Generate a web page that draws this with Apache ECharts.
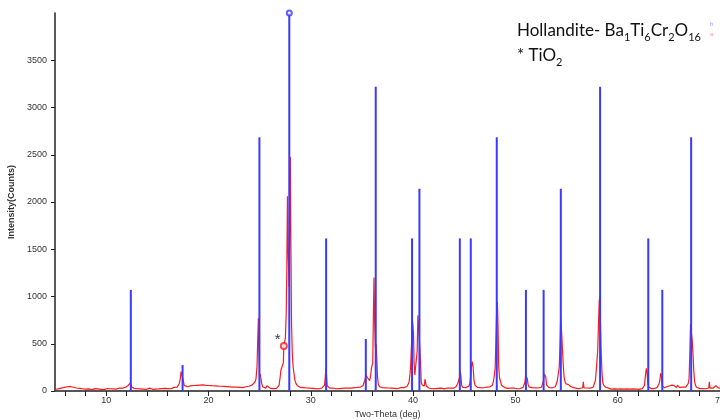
<!DOCTYPE html>
<html>
<head>
<meta charset="utf-8">
<script src="https://cdn.jsdelivr.net/npm/echarts@6/dist/echarts.min.js"></script>
<style>
html, body { margin: 0; padding: 0; background: #fff; }
#xrdChart { width: 720px; height: 420px; }
</style>
</head>
<body>
<div id="xrdChart"></div>
<script>
// tick / label positions
var xTickValues = [6, 8, 10, 12, 14, 16, 18, 20, 22, 24, 26, 28, 30, 32, 34, 36, 38, 40, 42, 44, 46, 48, 50, 52, 54, 56, 58, 60, 62, 64, 66, 68, 70];
var xLabelValues = [10, 20, 30, 40, 50, 60, 70];
var yLabelValues = [0, 500, 1000, 1500, 2000, 2500, 3000, 3500];

// reference pattern (blue sticks)
var refTheta = [12.41, 17.47, 24.98, 27.90, 31.50, 35.38, 36.35, 39.90, 40.62, 44.57, 45.64, 48.18, 51.03, 52.76, 54.44, 58.28, 62.99, 64.36, 67.18];
var refCounts = [1070, 275, 2685, 4000, 1615, 550, 3220, 1615, 2140, 1615, 1615, 2685, 1070, 1070, 2140, 3220, 1615, 1070, 2685];

// measured pattern (red curve), [2theta, counts]
var measured = [
  [5.0,20],[5.15,28],[5.3,22],[5.45,35],[5.6,30],[5.75,42],[5.9,38],[6.05,30],[6.2,45],[6.35,40],[6.5,48],[6.65,35],[6.8,40],[6.95,28],
  [7.1,32],[7.25,22],[7.4,28],[7.55,18],[7.7,24],[7.85,15],[8.0,20],[8.15,14],[8.3,22],[8.45,18],[8.6,12],[8.75,20],[8.9,25],[9.05,16],
  [9.2,22],[9.35,28],[9.5,18],[9.65,24],[9.8,14],[9.95,20],[10.1,26],[10.25,18],[10.4,24],[10.55,30],[10.7,22],[10.85,28],[11.0,20],
  [11.15,26],[11.3,32],[11.45,24],[11.6,30],[11.75,36],[11.9,40],[12.05,48],[12.15,58],[12.25,70],[12.35,82],[12.42,65],[12.5,42],
  [12.6,35],[12.75,28],[12.9,32],[13.05,24],[13.2,30],[13.35,22],[13.5,28],[13.65,20],[13.8,26],[13.95,18],[14.1,24],[14.25,30],
  [14.4,22],[14.55,18],[14.7,25],[14.85,20],[15.0,28],[15.15,22],[15.3,30],[15.45,25],[15.6,20],[15.75,28],[15.9,35],[16.05,26],
  [16.2,30],[16.35,24],[16.5,32],[16.65,38],[16.8,30],[16.95,42],[17.05,55],[17.15,80],[17.25,130],[17.32,205],[17.4,210],[17.47,190],
  [17.55,110],[17.62,60],[17.7,48],[17.8,52],[17.95,45],[18.1,58],[18.25,55],[18.4,62],[18.55,58],[18.7,65],[18.85,60],[19.0,55],
  [19.15,62],[19.3,58],[19.45,64],[19.6,56],[19.75,60],[19.9,54],[20.05,58],[20.2,52],[20.35,56],[20.5,50],[20.65,55],[20.8,48],
  [20.95,52],[21.1,46],[21.25,50],[21.4,44],[21.55,48],[21.7,42],[21.85,46],[22.0,40],[22.15,44],[22.3,38],[22.45,42],[22.6,36],
  [22.75,40],[22.9,35],[23.05,38],[23.2,42],[23.35,36],[23.5,40],[23.65,45],[23.8,42],[23.95,50],[24.1,55],[24.25,62],[24.4,75],
  [24.55,95],[24.65,130],[24.75,270],[24.82,560],[24.88,770],[24.94,420],[25.0,150],[25.06,180],[25.12,140],[25.2,80],[25.3,45],
  [25.45,35],[25.6,30],[25.72,55],[25.8,60],[25.9,35],[26.05,28],[26.2,32],[26.35,25],[26.5,30],[26.65,28],[26.8,35],[26.9,60],
  [27.0,140],[27.08,220],[27.18,200],[27.25,230],[27.32,300],[27.37,475],[27.44,480],[27.52,560],[27.6,820],[27.66,1300],[27.72,2060],
  [27.8,1400],[27.88,1100],[27.94,1800],[28.0,2480],[28.06,1500],[28.12,700],[28.2,380],[28.28,255],[28.36,180],[28.45,115],[28.55,80],
  [28.7,55],[28.85,45],[29.0,38],[29.15,32],[29.3,36],[29.45,28],[29.6,32],[29.75,25],[29.9,30],[30.05,24],[30.2,28],[30.35,22],
  [30.5,26],[30.65,30],[30.8,24],[30.95,28],[31.1,32],[31.25,40],[31.35,63],[31.42,150],[31.48,240],[31.54,160],[31.6,55],[31.7,38],
  [31.85,30],[32.0,26],[32.15,32],[32.3,28],[32.45,24],[32.6,30],[32.75,26],[32.9,32],[33.05,28],[33.2,24],[33.35,30],[33.5,26],
  [33.65,32],[33.8,36],[33.95,30],[34.1,40],[34.25,35],[34.4,44],[34.55,38],[34.7,46],[34.85,42],[35.0,48],[35.1,55],[35.2,75],
  [35.3,120],[35.38,170],[35.46,165],[35.55,140],[35.65,120],[35.75,110],[35.85,160],[35.93,240],[36.0,250],[36.06,300],[36.12,800],
  [36.18,1200],[36.25,700],[36.32,460],[36.4,495],[36.46,480],[36.52,160],[36.6,70],[36.72,45],[36.85,40],[37.0,35],[37.15,30],
  [37.3,34],[37.45,28],[37.6,32],[37.75,26],[37.9,30],[38.05,34],[38.2,28],[38.35,32],[38.5,26],[38.65,30],[38.8,35],[38.95,30],
  [39.1,36],[39.25,40],[39.4,48],[39.5,60],[39.6,90],[39.7,180],[39.77,285],[39.85,500],[39.92,760],[39.98,700],[40.04,610],[40.1,300],
  [40.17,170],[40.25,170],[40.33,190],[40.4,420],[40.47,800],[40.54,790],[40.6,575],[40.66,560],[40.73,300],[40.8,90],[40.9,60],
  [41.0,45],[41.1,55],[41.16,125],[41.24,125],[41.3,50],[41.4,38],[41.55,32],[41.7,28],[41.85,24],[42.0,30],[42.15,26],[42.3,22],
  [42.45,28],[42.6,24],[42.75,30],[42.9,26],[43.05,22],[43.2,28],[43.35,32],[43.5,26],[43.65,30],[43.8,36],[43.95,30],[44.1,38],
  [44.2,45],[44.3,60],[44.4,90],[44.47,116],[44.55,150],[44.62,204],[44.68,150],[44.75,60],[44.85,38],[45.0,32],[45.15,36],[45.3,40],
  [45.45,50],[45.55,80],[45.65,180],[45.72,275],[45.8,310],[45.88,240],[45.95,116],[46.05,60],[46.15,45],[46.3,38],[46.45,42],
  [46.6,35],[46.75,40],[46.9,34],[47.05,38],[47.2,42],[47.35,36],[47.5,44],[47.65,50],[47.75,62],[47.85,100],[47.95,170],[48.03,257],
  [48.1,550],[48.17,860],[48.24,944],[48.3,700],[48.37,257],[48.45,140],[48.55,98],[48.65,60],[48.8,42],[48.95,36],[49.1,32],
  [49.25,28],[49.4,34],[49.55,30],[49.7,26],[49.85,32],[50.0,28],[50.15,24],[50.3,30],[50.45,26],[50.6,32],[50.75,38],[50.85,50],
  [50.93,90],[51.0,159],[51.08,140],[51.16,134],[51.24,70],[51.35,40],[51.5,32],[51.65,36],[51.8,30],[51.95,34],[52.1,28],[52.25,32],
  [52.4,36],[52.55,40],[52.65,55],[52.75,110],[52.82,180],[52.9,180],[52.97,150],[53.05,63],[53.15,42],[53.3,36],[53.45,40],[53.6,34],
  [53.75,38],[53.9,45],[54.0,55],[54.08,100],[54.15,150],[54.22,200],[54.29,257],[54.36,500],[54.42,768],[54.48,700],[54.55,557],
  [54.62,400],[54.69,257],[54.76,150],[54.85,98],[54.95,75],[55.05,63],[55.15,70],[55.26,63],[55.4,48],[55.55,42],[55.7,36],[55.85,32],
  [56.0,28],[56.15,32],[56.3,26],[56.45,30],[56.58,34],[56.64,98],[56.7,34],[56.85,28],[57.0,32],[57.15,26],[57.3,30],[57.45,34],
  [57.6,40],[57.72,55],[57.82,110],[57.9,215],[57.98,215],[58.05,433],[58.12,700],[58.2,960],[58.26,995],[58.32,700],[58.38,433],
  [58.46,200],[58.54,90],[58.62,63],[58.72,48],[58.82,40],[58.95,36],[59.1,30],[59.25,24],[59.4,20],[59.55,18],[59.7,22],[59.85,16],
  [60.0,20],[60.15,18],[60.3,22],[60.45,16],[60.6,20],[60.75,18],[60.9,22],[61.05,16],[61.2,20],[61.35,18],[61.5,22],[61.65,16],
  [61.8,20],[61.95,24],[62.1,18],[62.25,22],[62.4,26],[62.52,35],[62.62,60],[62.7,150],[62.8,240],[62.87,200],[62.94,90],[63.02,45],
  [63.12,30],[63.25,26],[63.4,30],[63.55,26],[63.7,32],[63.85,36],[63.95,50],[64.05,80],[64.12,116],[64.2,187],[64.28,160],[64.36,53],
  [64.45,40],[64.6,34],[64.75,42],[64.9,50],[65.0,38],[65.1,55],[65.2,40],[65.3,62],[65.4,42],[65.5,58],[65.6,40],[65.75,36],
  [65.85,60],[65.95,45],[66.05,38],[66.2,30],[66.35,42],[66.5,35],[66.65,40],[66.8,50],[66.9,80],[66.98,137],[67.05,400],[67.12,708],
  [67.2,698],[67.28,540],[67.36,400],[67.44,204],[67.52,100],[67.6,63],[67.7,40],[67.85,34],[68.0,28],[68.15,32],[68.3,26],[68.45,30],
  [68.6,24],[68.75,28],[68.9,32],[68.96,98],[69.02,30],[69.15,26],[69.3,30],[69.45,34],[69.6,55],[69.7,40],[69.85,32],[70.0,30]
];

// open-circle markers
var tio2Mark = [[27.37, 475]];
var topMark = [[27.90, 4000]];

var xrdChart = echarts.init(document.getElementById('xrdChart'));

var refData = refTheta.map(function (t, i) { return [t, refCounts[i]]; });

var labelFont = { fontFamily: 'Liberation Sans', fontSize: 9, color: '#333' };

var option = {
    backgroundColor: '#fff',
    animation: false,
    grid: {
        left: 55,
        right: 0,
        top: 13,
        bottom: 29,
        containLabel: false,
        outerBoundsMode: 'none'
    },
    xAxis: [{
        type: 'value',
        min: 5,
        max: 70,
        name: 'Two-Theta (deg)',
        nameLocation: 'middle',
        nameGap: 17,
        nameTextStyle: { fontFamily: 'Liberation Sans', fontSize: 9, color: '#333' },
        axisLine: { show: true, onZero: false, lineStyle: { color: '#222', width: 1.5 } },
        axisTick: { show: true, length: 5, lineStyle: { color: '#222', width: 1 }, customValues: xTickValues },
        axisLabel: Object.assign({ margin: 5, customValues: xLabelValues }, labelFont),
        splitLine: { show: false }
    }, {
        // top frame line
        type: 'value',
        position: 'top',
        min: 5,
        max: 70,
        axisLine: { show: true, lineStyle: { color: '#555', width: 1.5 } },
        axisTick: { show: false },
        axisLabel: { show: false },
        splitLine: { show: false }
    }],
    yAxis: {
        type: 'value',
        min: 0,
        max: 4000,
        name: 'Intensity(Counts)',
        nameLocation: 'middle',
        nameGap: 35,
        nameTextStyle: { fontFamily: 'Liberation Sans', fontSize: 9, fontWeight: 'bold', color: '#333' },
        axisLine: { show: true, lineStyle: { color: '#222', width: 1.5 } },
        axisTick: { show: true, length: 4, lineStyle: { color: '#222', width: 1 }, customValues: yLabelValues },
        axisLabel: Object.assign({
            margin: 8,
            customValues: yLabelValues,
            formatter: function (v) { return String(v); }
        }, labelFont),
        splitLine: { show: false }
    },
    series: [
        {
            name: 'measured',
            type: 'line',
            data: measured,
            symbol: 'none',
            sampling: 'none',
            lineStyle: { color: '#ff1a1a', width: 1.2 },
            z: 2
        },
        {
            name: 'TiO2',
            type: 'scatter',
            data: tio2Mark,
            symbol: 'emptyCircle',
            symbolSize: 6,
            itemStyle: { color: '#ff1a1a', borderWidth: 1 },
            label: {
                show: true,
                formatter: '*',
                position: [-5, -10],
                fontFamily: 'Liberation Sans',
                fontSize: 15,
                color: '#000'
            },
            z: 3
        },
        {
            name: 'hollandite',
            type: 'bar',
            data: refData,
            barWidth: 2,
            itemStyle: { color: '#3a3aff' },
            z: 4
        },
        {
            name: 'top',
            type: 'scatter',
            data: topMark,
            symbol: 'emptyCircle',
            symbolSize: 5,
            itemStyle: { color: '#3a3aff', borderWidth: 1 },
            z: 5
        }
    ],
    graphic: [
        {
            type: 'text',
            left: 517,
            top: 22,
            style: {
                text: '{n|Hollandite- Ba}{s|1}{n|Ti}{s|6}{n|Cr}{s|2}{n|O}{s|16}',
                rich: {
                    n: { fontFamily: 'Lato', fontSize: 17, fill: '#111', lineHeight: 20, verticalAlign: 'bottom' },
                    s: { fontFamily: 'Lato', fontSize: 11, fill: '#111', lineHeight: 14, verticalAlign: 'bottom', padding: [0, 0, -4, 0] }
                }
            }
        },
        {
            type: 'text',
            left: 517,
            top: 47,
            style: {
                text: '{n|* TiO}{s|2}',
                rich: {
                    n: { fontFamily: 'Lato', fontSize: 17, fill: '#111', lineHeight: 20, verticalAlign: 'bottom' },
                    s: { fontFamily: 'Lato', fontSize: 11, fill: '#111', lineHeight: 14, verticalAlign: 'bottom', padding: [0, 0, -4, 0] }
                }
            }
        },
        { type: 'text', left: 710, top: 21, style: { text: 'b', fontSize: 6, fill: '#9a9aff', fontFamily: 'Liberation Sans' } },
        { type: 'text', left: 710, top: 31, style: { text: 'a', fontSize: 6, fill: '#ff9a9a', fontFamily: 'Liberation Sans' } }
    ]
};

xrdChart.setOption(option);
</script>
</body>
</html>
